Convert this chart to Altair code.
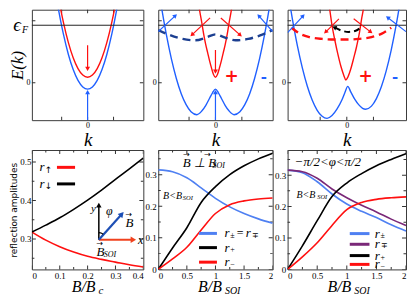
import math
import altair as alt
import pandas as pd

# ================= DATA =================
EF = 63  # Fermi level (energy units, E = 0 at the Zeeman midpoint)

# --- top-left: Zeeman-split parabolas
p1b_k = [-32, -30, -25, -20, -15, -10, -5, 0, 5, 10, 15, 20, 25, 30, 32]
p1b_E = [90, 78.5, 52.4, 31, 14.4, 2.5, -4.6, -7, -4.6, 2.5, 14.4, 31, 52.4, 78.5, 90]
p1r_k = [-30, -28, -25, -20, -15, -10, -5, 0, 5, 10, 15, 20, 25, 28, 30]
p1r_E = [91.5, 80.5, 65.4, 44, 27.4, 15.5, 8.4, 6, 8.4, 15.5, 27.4, 44, 65.4, 80.5, 91.5]

# --- top-middle
p2b_k = [-58, -55, -50, -45, -40, -35, -30, -25, -19, -14, -10, -6, -3, 0,
         3, 6, 10, 14, 19, 25, 30, 35, 40, 45, 50, 55, 58]
p2b_E = [102, 81.6, 51.5, 25.8, 4.7, -12, -24, -31.8, -35, -31, -25, -17, -11, -7,
         -11, -17, -25, -31, -35, -31.8, -24, -12, 4.7, 25.8, 51.5, 81.6, 102]
p2r_k = [-18, -16, -14, -12, -10, -8, -6, -4, -2, 0, 2, 4, 6, 8, 10, 12, 14, 16, 18]
p2r_E = [92, 78, 66, 53, 42, 33, 24, 16, 9, 6, 9, 16, 24, 33, 42, 53, 66, 78, 92]
p2d_k = [-58.5, -48.5, -33.5, -20.5, -8.5, 0, 8.5, 20.5, 33.5, 48.5, 58.5]
p2d_E = [57.7, 53, 48, 46.5, 50, 53, 50, 46.5, 48, 53, 57.7]

# --- top-right
p3b_k = [-60, -58, -55, -50, -45, -40, -35, -30, -25, -20, -15, -10, -5, -2, 1,
         4, 8, 12, 16, 19, 25, 30, 35, 40, 45, 50, 54]
p3b_E = [101.8, 88, 68.8, 40, 16, -3.8, -19.2, -30.2, -36.8, -39, -36, -29, -19, -11, -4,
         -10, -18, -24, -28, -29, -25.6, -17.4, -4.5, 13.2, 35.7, 63, 88]
p3r_k = [-19, -17, -15, -12, -9, -6, -3, -1, 1, 4, 7, 10, 13, 15, 17, 18]
p3r_E = [92, 78, 63, 46, 31, 18, 8, 3, 6, 15, 27, 40, 56, 70, 82, 90]
p3d_k = [-56, -48, -38, -25, -12, 0, 12, 25, 35, 45]
p3d_E = [60.3, 54, 50, 48, 47.3, 47.3, 48, 50, 53.5, 60.3]
p3k_k = [-12, -5, 2, 9, 14]
p3k_E = [60.3, 57, 55.7, 57, 60.3]

# arrows: tail (x, y) -> head (x2, y2), in data units of each panel
p1_red_arr = dict(x=[0], y=[41], x2=[0], y2=[16])
p1_blue_arr = dict(x=[0], y=[-41], x2=[0], y2=[-11])
p2_red_arr = dict(x=[0, -5.5, 5.5], y=[36, 71, 71], x2=[0, -23.5, 24.8], y2=[13, 53, 52.7])
p2_blue_arr = dict(x=[0, -58.5, 58.5], y=[-41, 56, 56], x2=[0, -41.5, 44.8], y2=[-11, 73, 72.7])
p3_red_arr = dict(x=[-8, 7], y=[70, 70], x2=[-21, 23.7], y2=[56, 56])
p3_blue_arr = dict(x=[-60, 60], y=[55, 56], x2=[-44.7, 42], y2=[72.7, 71])
p3_black_head = dict(x=[-5], y=[57], x2=[-12], y2=[60.3])
p2_signs = dict(x=[16.5, 49.5], y=[6, 6], t=["+", "-"])
p3_signs = dict(x=[19, 49], y=[6, 6], t=["+", "-"])

# frame ticks of the top panels
top_kticks = [-27, 0, 27]
top_Eticks = [0, 68]

# --- bottom-left: reflection amplitudes vs B/Bc
bl_B = [0, 0.05, 0.1, 0.15, 0.2, 0.25, 0.3, 0.35, 0.4]
bl_up = [0.318, 0.297, 0.280, 0.266, 0.255, 0.247, 0.240, 0.233, 0.227]
bl_down = [0.318, 0.336, 0.355, 0.377, 0.401, 0.427, 0.455, 0.482, 0.51]
bl_xticks = [0, 0.1, 0.2, 0.3, 0.4]
bl_xminor = [0.05, 0.15, 0.25, 0.35]
bl_yticks = [0.3, 0.4, 0.5]
bl_yminor = [0.25, 0.35, 0.45]

# --- bottom-middle / right: vs B/B_SOI
b_B = [0, 0.25, 0.5, 0.75, 1, 1.25, 1.5, 1.75, 2]
bm_pm = [0.315, 0.309, 0.290, 0.258, 0.225, 0.198, 0.177, 0.160, 0.146]
bm_plus = [0, 0.068, 0.132, 0.212, 0.262, 0.300, 0.328, 0.350, 0.368]
bm_minus = [0, 0.033, 0.07, 0.125, 0.177, 0.205, 0.217, 0.223, 0.226]
br_pm = [0.316, 0.308, 0.279, 0.240, 0.208, 0.185, 0.165, 0.142, 0.122]
br_mp = [0.316, 0.311, 0.290, 0.256, 0.228, 0.204, 0.183, 0.160, 0.140]
br_plus = [0, 0.075, 0.155, 0.232, 0.275, 0.305, 0.330, 0.350, 0.368]
br_minus = [0, 0.04, 0.085, 0.14, 0.19, 0.213, 0.223, 0.228, 0.231]
b_xticks = [0, 0.5, 1, 1.5, 2]
b_xminor = [0.25, 0.75, 1.25, 1.75]
b_yticks = [0, 0.1, 0.2, 0.3]
b_yminor = [0.05, 0.15, 0.25, 0.35]

# ================= STYLE =================
RED = "#ff1010"; BLUE = "#2060ff"; NAVY = "#1c3f91"; BLK = "#000000"
LBLUE = "#4f80f2"; PURPLE = "#7a2878"; IRED = "#f0421e"; IBLUE = "#1d4fb5"
SERIF = "Liberation Serif, serif"
W = [112, 115, 119]; HT = 111; HB = 120
TOP_E = [-41, 80]


def mk_enc(dom_x, dom_y, ax_x, ax_y):
    def fx(f):
        return alt.X(f"{f}:Q", scale=alt.Scale(domain=dom_x, nice=False, zero=False), axis=ax_x)

    def fy(f):
        return alt.Y(f"{f}:Q", scale=alt.Scale(domain=dom_y, nice=False, zero=False), axis=ax_y)
    return fx, fy


def line(xs, ys, color, fx, fy, width=1.4, dash=None):
    kw = dict(color=color, strokeWidth=width, interpolate="monotone", clip=True)
    if dash:
        kw["strokeDash"] = dash
    return alt.Chart(pd.DataFrame({"x": xs, "y": ys})).mark_line(**kw).encode(x=fx("x"), y=fy("y"))


def arrows(d, color, fx, fy, sx, sy, width=1.2, size=24, shaft=True):
    df = pd.DataFrame(d)
    df["ang"] = [(math.degrees(math.atan2((b - a) * sx, (q - p) * sy)) + 360) % 360
                 for a, b, p, q in zip(df.x, df.x2, df.y, df.y2)]
    out = []
    if shaft:
        out.append(alt.Chart(df).mark_rule(color=color, strokeWidth=width, clip=True).encode(
            x=fx("x"), y=fy("y"), x2="x2:Q", y2="y2:Q"))
    out.append(alt.Chart(df).mark_point(shape="triangle", filled=True, size=size, color=color,
                                        opacity=1).encode(
        x=fx("x2"), y=fy("y2"), angle=alt.Angle("ang:Q", scale=None)))
    return out


def edge_ticks(xv, yv, xdom, ydom, fx, fy, size):
    """small inward ticks on all four frame edges (half of each tick is clipped away)"""
    out = []
    for yy in ydom:
        df = pd.DataFrame({"x": xv, "y": [yy] * len(xv)})
        out.append(alt.Chart(df).mark_tick(orient="vertical", size=size, thickness=1,
                                           color="#333333", clip=True, opacity=1).encode(
            x=fx("x"), y=fy("y")))
    for xx in xdom:
        df = pd.DataFrame({"x": [xx] * len(yv), "y": yv})
        out.append(alt.Chart(df).mark_tick(orient="horizontal", size=size, thickness=1,
                                           color="#333333", clip=True, opacity=1).encode(
            x=fx("x"), y=fy("y")))
    return out


def txt(xs, ys, ts, fx, fy, size, color="black", style="italic", font=SERIF, align="left",
        weight="normal", dy=0):
    df = pd.DataFrame({"x": xs, "y": ys, "t": ts})
    return alt.Chart(df).mark_text(fontSize=size, color=color, fontStyle=style, font=font,
                                   align=align, baseline="middle", fontWeight=weight, dy=dy).encode(
        x=fx("x"), y=fy("y"), text="t:N")


def vec_arrow(xs, ys, fx, fy, size=8, dy=-8):
    # small arrow placed above a vector symbol
    return txt(xs, ys, ["→"] * len(xs), fx, fy, size, style="normal", font="DejaVu Sans",
               align="center", dy=dy)


def ptxt(px, py, t, size, style="italic", font=SERIF, align="center"):
    return alt.Chart(pd.DataFrame({"t": [t]})).mark_text(
        fontSize=size, fontStyle=style, font=font, align=align, baseline="middle", color="black"
    ).encode(x=alt.value(px), y=alt.value(py), text="t:N")


def legrule(x1, x2, y, color, fx, fy):
    df = pd.DataFrame({"x": [x1], "x2": [x2], "y": [y]})
    return alt.Chart(df).mark_rule(color=color, strokeWidth=3).encode(x=fx("x"), x2="x2:Q", y=fy("y"))


# ================= TOP PANELS =================
def top_axes(first):
    ax = alt.Axis(values=[0], format="d", title="k", titleFont=SERIF, titleFontSize=19,
                  titleFontStyle="italic", titleFontWeight="normal", labelFontSize=8,
                  labelFont=SERIF, labelColor="black", labelPadding=1, titlePadding=1)
    if first:
        ay = alt.Axis(values=[0], format="d", labelFontSize=8, labelFont=SERIF, labelColor="black",
                      labelPadding=2, title="E(k)", titleFont=SERIF, titleFontSize=17,
                      titleFontStyle="italic", titleFontWeight="normal", titlePadding=-1)
    else:
        ay = alt.Axis(values=[0], format="d", labelFontSize=8, labelFont=SERIF, labelColor="black",
                      labelPadding=2, title=None)
    return ax, ay


def ef_rule(fy):
    return alt.Chart(pd.DataFrame({"y": [EF]})).mark_rule(color="#222222", strokeWidth=1).encode(y=fy("y"))


# panel 1
ax, ay = top_axes(True)
kd1 = [-58, 58]
fx, fy = mk_enc(kd1, TOP_E, ax, ay)
sx, sy = W[0] / 116, HT / 121
ef_df = pd.DataFrame({"y": [EF]})
p1_layers = [
    *edge_ticks(top_kticks, top_Eticks, kd1, TOP_E, fx, fy, 7),
    line(p1b_k, p1b_E, BLUE, fx, fy),
    line(p1r_k, p1r_E, RED, fx, fy),
    ef_rule(fy),
    *arrows(p1_red_arr, RED, fx, fy, sx, sy),
    *arrows(p1_blue_arr, BLUE, fx, fy, sx, sy),
    alt.Chart(ef_df).mark_text(text="ϵ", fontSize=19, font=SERIF, fontStyle="italic",
                               align="center", baseline="middle", color="black").encode(
        x=alt.value(-15), y=fy("y")),
    alt.Chart(ef_df).mark_text(text="F", fontSize=10, font=SERIF, fontStyle="italic",
                               align="center", baseline="middle", color="black", dy=5).encode(
        x=alt.value(-7), y=fy("y")),
]
p1 = alt.layer(*p1_layers).properties(width=W[0], height=HT)

# panel 2
ax, ay = top_axes(False)
kd2 = [-58.5, 58.5]
fx, fy = mk_enc(kd2, TOP_E, ax, ay)
sx, sy = W[1] / 117, HT / 121
p2_layers = [
    *edge_ticks(top_kticks, top_Eticks, kd2, TOP_E, fx, fy, 7),
    line(p2b_k, p2b_E, BLUE, fx, fy),
    line(p2r_k, p2r_E, RED, fx, fy),
    line(p2d_k, p2d_E, NAVY, fx, fy, width=2.4, dash=[8, 5]),
    ef_rule(fy),
    *arrows(p2_red_arr, RED, fx, fy, sx, sy),
    *arrows(p2_blue_arr, BLUE, fx, fy, sx, sy),
    txt(p2_signs["x"][:1], p2_signs["y"][:1], p2_signs["t"][:1], fx, fy, 17, color=RED,
        style="normal", font="DejaVu Sans", align="center", weight="bold"),
    txt(p2_signs["x"][1:], p2_signs["y"][1:], p2_signs["t"][1:], fx, fy, 15, color=BLUE,
        style="normal", font="DejaVu Sans", align="center", weight="bold"),
]
p2 = alt.layer(*p2_layers).properties(width=W[1], height=HT)

# panel 3
ax, ay = top_axes(False)
kd3 = [-60, 60]
fx, fy = mk_enc(kd3, TOP_E, ax, ay)
sx, sy = W[2] / 120, HT / 121
p3_layers = [
    *edge_ticks(top_kticks, top_Eticks, kd3, TOP_E, fx, fy, 7),
    line(p3b_k, p3b_E, BLUE, fx, fy),
    line(p3r_k, p3r_E, RED, fx, fy),
    line(p3d_k, p3d_E, RED, fx, fy, width=2.4, dash=[8, 5]),
    line(p3k_k, p3k_E, BLK, fx, fy, width=2.0, dash=[6, 4]),
    ef_rule(fy),
    *arrows(p3_red_arr, RED, fx, fy, sx, sy),
    *arrows(p3_blue_arr, BLUE, fx, fy, sx, sy),
    *arrows(p3_black_head, BLK, fx, fy, sx, sy, shaft=False),
    txt(p3_signs["x"][:1], p3_signs["y"][:1], p3_signs["t"][:1], fx, fy, 17, color=RED,
        style="normal", font="DejaVu Sans", align="center", weight="bold"),
    txt(p3_signs["x"][1:], p3_signs["y"][1:], p3_signs["t"][1:], fx, fy, 15, color=BLUE,
        style="normal", font="DejaVu Sans", align="center", weight="bold"),
]
p3 = alt.layer(*p3_layers).properties(width=W[2], height=HT)

# ================= BOTTOM PANELS =================
def bot_x(values):
    return alt.Axis(values=values, format=".1~f", title=None, labelFontSize=9, labelFont=SERIF,
                    labelColor="black", labelPadding=2)


# bottom-left
ayl = alt.Axis(values=bl_yticks, format=".1f", title="reflection amplitudes",
               titleFont="DejaVu Sans", titleFontSize=9, titleFontWeight="normal",
               titlePadding=1, labelFontSize=9, labelFont=SERIF, labelColor="black", labelPadding=1)
bl_xd, bl_yd = [0, 0.4], [0.221, 0.531]
fx, fy = mk_enc(bl_xd, bl_yd, bot_x(bl_xticks), ayl)
sx, sy = W[0] / 0.4, HB / 0.31
b1_layers = [
    *edge_ticks(bl_xticks, bl_yticks, bl_xd, bl_yd, fx, fy, 8),
    *edge_ticks(bl_xminor, bl_yminor, bl_xd, bl_yd, fx, fy, 5),
    line(bl_B, bl_up, RED, fx, fy, width=1.6),
    line(bl_B, bl_down, BLK, fx, fy, width=1.6),
    legrule(0.09, 0.155, 0.486, RED, fx, fy),
    legrule(0.09, 0.155, 0.443, BLK, fx, fy),
    txt([0.027, 0.027], [0.486, 0.443], ["r", "r"], fx, fy, 13),
    txt([0.046, 0.046], [0.480, 0.437], ["↑", "↓"], fx, fy, 9, style="normal", font="DejaVu Sans"),
    *arrows(dict(x=[0.2403], y=[0.298], x2=[0.2403], y2=[0.386]), BLK, fx, fy, sx, sy, width=1.5, size=30),
    *arrows(dict(x=[0.2403], y=[0.298], x2=[0.361], y2=[0.298]), IRED, fx, fy, sx, sy, width=2.2, size=40),
    *arrows(dict(x=[0.2403], y=[0.298], x2=[0.3207], y2=[0.363]), IBLUE, fx, fy, sx, sy, width=2.2, size=40),
    line([0.2403, 0.2486, 0.2560], [0.3165, 0.3154, 0.3122], BLK, fx, fy, width=1.2),
    txt([0.212], [0.378], ["y"], fx, fy, 11),
    txt([0.266], [0.373], ["φ"], fx, fy, 12),
    txt([0.336], [0.341], ["B"], fx, fy, 13),
    vec_arrow([0.347], [0.341], fx, fy),
    txt([0.381], [0.297], ["x"], fx, fy, 12),
    txt([0.232], [0.265], ["B"], fx, fy, 13),
    vec_arrow([0.243], [0.265], fx, fy),
    txt([0.258], [0.258], ["SOI"], fx, fy, 8),
    ptxt(52, HB + 18, "B/B", 16),
    ptxt(67, HB + 22, "c", 11, align="left"),
]
b1 = alt.layer(*b1_layers).properties(width=W[0], height=HB)

# bottom-middle
ayr = alt.Axis(values=b_yticks, format=".1~f", title=None, labelFontSize=9,
               labelFont=SERIF, labelColor="black", labelPadding=2)
bm_yd = [0, 0.378]
fx, fy = mk_enc([0, 2], bm_yd, bot_x(b_xticks), ayr)
b2_layers = [
    *edge_ticks(b_xticks, b_yticks, [0, 2], bm_yd, fx, fy, 8),
    *edge_ticks(b_xminor, b_yminor, [0, 2], bm_yd, fx, fy, 5),
    line(b_B, bm_pm, LBLUE, fx, fy, width=1.6),
    line(b_B, bm_plus, BLK, fx, fy, width=1.6),
    line(b_B, bm_minus, RED, fx, fy, width=1.6),
    legrule(0.713, 1.026, 0.114, LBLUE, fx, fy),
    legrule(0.713, 1.026, 0.069, BLK, fx, fy),
    legrule(0.713, 1.026, 0.023, RED, fx, fy),
    txt([1.16, 1.16, 1.16, 1.53], [0.114, 0.069, 0.023, 0.114], ["r", "r", "r", "r"], fx, fy, 13),
    txt([1.37], [0.114], ["="], fx, fy, 12, style="normal"),
    txt([1.26, 1.26, 1.26, 1.63], [0.106, 0.061, 0.015, 0.106], ["±", "+", "−", "∓"], fx, fy, 8,
        style="normal"),
    txt([0.43], [0.336], ["B ⊥ B"], fx, fy, 13),
    vec_arrow([0.49, 0.86], [0.336, 0.336], fx, fy),
    txt([0.95], [0.327], ["SOI"], fx, fy, 8),
    txt([0.085], [0.233], ["B<B"], fx, fy, 10),
    txt([0.43], [0.227], ["SOI"], fx, fy, 6.5),
    ptxt(52, HB + 18, "B/B", 16),
    ptxt(67, HB + 22, "SOI", 10, align="left"),
]
b2 = alt.layer(*b2_layers).properties(width=W[1], height=HB)

# bottom-right
br_yd = [0, 0.38]
fx, fy = mk_enc([0, 2], br_yd, bot_x(b_xticks), ayr)
b3_layers = [
    *edge_ticks(b_xticks, b_yticks, [0, 2], br_yd, fx, fy, 8),
    *edge_ticks(b_xminor, b_yminor, [0, 2], br_yd, fx, fy, 5),
    line(b_B, br_pm, LBLUE, fx, fy, width=1.6),
    line(b_B, br_mp, PURPLE, fx, fy, width=1.6),
    line(b_B, br_plus, BLK, fx, fy, width=1.6),
    line(b_B, br_minus, RED, fx, fy, width=1.6),
    legrule(1.05, 1.383, 0.114, LBLUE, fx, fy),
    legrule(1.05, 1.383, 0.080, PURPLE, fx, fy),
    legrule(1.05, 1.383, 0.044, BLK, fx, fy),
    legrule(1.05, 1.383, 0.016, RED, fx, fy),
    txt([1.47] * 4, [0.114, 0.080, 0.044, 0.016], ["r"] * 4, fx, fy, 13),
    txt([1.57] * 4, [0.107, 0.073, 0.037, 0.009], ["±", "∓", "+", "−"], fx, fy, 8, style="normal"),
    txt([0.12], [0.342], ["−π/2<φ<π/2"], fx, fy, 13),
    txt([0.15], [0.238], ["B<B"], fx, fy, 10),
    txt([0.50], [0.232], ["SOI"], fx, fy, 6.5),
    ptxt(52, HB + 18, "B/B", 16),
    ptxt(67, HB + 22, "SOI", 10, align="left"),
]
b3 = alt.layer(*b3_layers).properties(width=W[2], height=HB)

chart = alt.concat(p1, p2, p3, b1, b2, b3, columns=3, bounds="flush",
                   spacing={"row": 30, "column": 15}).properties(
    padding={"left": 0, "top": 0, "right": 0, "bottom": 0}
).configure_view(stroke="#3a3a3a", strokeWidth=1).configure_axis(
    labelFont=SERIF, labelColor="black", labelFontSize=9, grid=False, ticks=False,
    domain=False, titleColor="black"
)

chart.save("out.html", embed_options={"renderer": "svg", "actions": False})
